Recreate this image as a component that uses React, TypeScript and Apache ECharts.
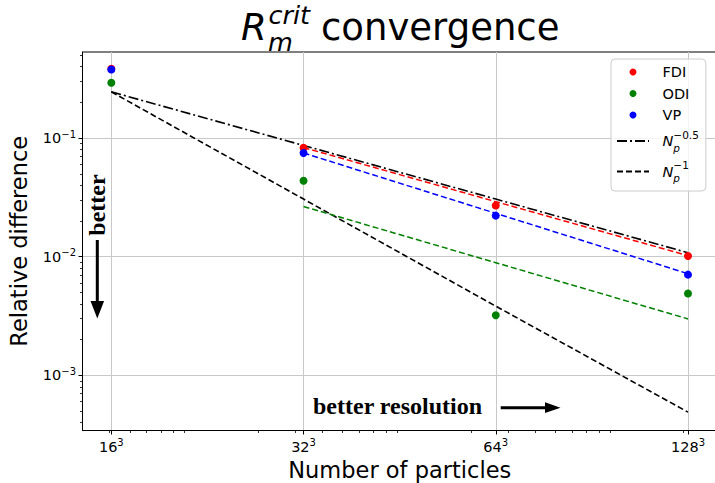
import React, { useEffect, useRef } from 'react';
import * as echarts from 'echarts';

// ---------- data ----------
const particleCounts = [16 ** 3, 32 ** 3, 64 ** 3, 128 ** 3];
const xTickBases = ['16', '32', '64', '128'];
const xTickExponent = '3';

const fdiValues = [0.383, 0.0829, 0.027, 0.01014];
const odiValues = [0.292, 0.0436, 0.00321, 0.00489];
const vpValues = [0.378, 0.0748, 0.0222, 0.00706];

// dashed fits, drawn from 32³ to 128³
const fdiFit = [0.0831, 0.0291, 0.0102];
const odiFit = [0.0265, 0.0089, 0.00299];
const vpFit = [0.0748, 0.0232, 0.00719];

// reference slopes, drawn from 16³ to 128³
const halfPowerRef = [0.245, 0.0866, 0.0306, 0.0108];
const firstPowerRef = [0.245, 0.0306, 0.00383, 0.00049];

const yTickValues = [0.001, 0.01, 0.1];
const yTickBase = '10';
const yTickExponents = ['−3', '−2', '−1'];

const xMinorTicks = [
  4000, 5000, 6000, 7000, 8000, 9000,
  20000, 30000, 40000, 50000, 60000, 70000, 80000, 90000,
  200000, 300000, 400000, 500000, 600000, 700000, 800000, 900000,
  2000000,
];
const yMinorTicks = [
  0.0004, 0.0005, 0.0006, 0.0007, 0.0008, 0.0009,
  0.002, 0.003, 0.004, 0.005, 0.006, 0.007, 0.008, 0.009,
  0.02, 0.03, 0.04, 0.05, 0.06, 0.07, 0.08, 0.09,
  0.2, 0.3, 0.4, 0.5,
];

const X_MIN = 2999;
const X_MAX = 2.87e6;
const Y_MIN = 3.43e-4;
const Y_MAX = 0.531;

const NAME_HALF = 'N_p^-0.5';
const NAME_ONE = 'N_p^-1';

const FONT = '"DejaVu Sans", sans-serif';
const SERIF = '"Liberation Serif", "Times New Roman", serif';

function nearestIndex(vals: number[], v: number): number {
  let best = 0;
  vals.forEach((t, i) => {
    if (Math.abs(Math.log(t / v)) < Math.abs(Math.log(vals[best] / v))) best = i;
  });
  return best;
}

const pairs = (xs: number[], ys: number[]) => ys.map((y, i) => [xs[i], y]);

export default function App() {
  const ref = useRef<HTMLDivElement>(null);

  useEffect(() => {
    document.body.style.margin = '0';
    if (!ref.current) return;
    const chart = echarts.init(ref.current, null, { renderer: 'svg' });

    const tickRich = {
      b: { fontSize: 14.5, fontFamily: FONT, color: '#000', lineHeight: 18 },
      s: { fontSize: 10, fontFamily: FONT, color: '#000', lineHeight: 18, verticalAlign: 'top' },
    };

    const dotSeries = (name: string, color: string, vals: number[]) => ({
      name,
      type: 'scatter',
      xAxisIndex: 0,
      yAxisIndex: 0,
      data: pairs(particleCounts, vals),
      symbol: 'circle',
      symbolSize: 8,
      itemStyle: { color, opacity: 1 },
      z: 5,
    });

    const lineSeries = (
      name: string,
      color: string,
      xs: number[],
      vals: number[],
      dash: number[],
      width: number
    ) => ({
      name,
      type: 'line',
      xAxisIndex: 0,
      yAxisIndex: 0,
      data: pairs(xs, vals),
      symbol: 'none',
      showSymbol: false,
      itemStyle: { color },
      lineStyle: { color, width, type: dash },
      z: 3,
    });

    const hiddenSymbol = { color: 'rgba(0,0,0,0)', borderWidth: 0, borderColor: 'rgba(0,0,0,0)' };

    const option: any = {
      animation: false,
      backgroundColor: '#fff',
      grid: {
        left: 82.5,
        top: 52,
        width: 634.5,
        height: 378.5,
        show: true,
        borderColor: '#000',
        borderWidth: 1,
        backgroundColor: 'transparent',
        containLabel: false,
        outerBoundsMode: 'none',
      },
      legend: {
        orient: 'vertical',
        left: 611,
        top: 59,
        padding: [5.5, 7, 7.5, 5],
        itemGap: 6.5,
        itemWidth: 32,
        itemHeight: 7,
        backgroundColor: 'rgba(255,255,255,0.8)',
        borderColor: '#cccccc',
        borderWidth: 1,
        borderRadius: 4,
        data: [
          { name: 'FDI', icon: 'circle' },
          { name: 'ODI', icon: 'circle' },
          { name: 'VP', icon: 'circle' },
          { name: NAME_HALF, itemStyle: hiddenSymbol },
          { name: NAME_ONE, itemStyle: hiddenSymbol },
        ],
        formatter: (name: string) => {
          if (name === NAME_HALF) return '{n|N}{p|p}{e|−0.5}';
          if (name === NAME_ONE) return '{n|N}{p|p}{e|−1}';
          return name;
        },
        textStyle: {
          fontFamily: FONT,
          fontSize: 14.5,
          color: '#000',
          padding: [0, 0, 0, 8.5],
          rich: {
            n: { fontFamily: FONT, fontSize: 14.5, fontStyle: 'italic', color: '#000', lineHeight: 24 },
            p: { fontFamily: FONT, fontSize: 10.5, fontStyle: 'italic', color: '#000', lineHeight: 24, verticalAlign: 'bottom', width: 0 },
            e: { fontFamily: FONT, fontSize: 10.5, color: '#000', lineHeight: 24, verticalAlign: 'top' },
          },
        },
      },
      xAxis: [
        {
          type: 'log',
          logBase: 10,
          min: X_MIN,
          max: X_MAX,
          position: 'bottom',
          axisLine: { show: true, lineStyle: { color: '#000', width: 1 } },
          axisTick: { show: true, inside: false, length: 4, customValues: particleCounts, lineStyle: { color: '#000', width: 1 } },
          minorTick: { show: false },
          axisLabel: {
            show: true,
            margin: 7,
            customValues: particleCounts,
            formatter: (v: number) => `{b|${xTickBases[nearestIndex(particleCounts, v)]}}{s|${xTickExponent}}`,
            rich: tickRich,
          },
          splitLine: { show: true, lineStyle: { color: '#c8c8c8', width: 1 } },
          name: 'Number of particles',
          nameLocation: 'middle',
          nameGap: 27.5,
          nameTextStyle: { fontFamily: FONT, fontSize: 22.5, color: '#000', lineHeight: 22 },
        },
        {
          type: 'log',
          logBase: 10,
          min: X_MIN,
          max: X_MAX,
          position: 'bottom',
          axisLine: { show: false },
          axisTick: { show: true, inside: false, length: 2.5, customValues: xMinorTicks, lineStyle: { color: '#000', width: 0.8 } },
          axisLabel: { show: false },
          splitLine: { show: false },
        },
      ],
      yAxis: [
        {
          type: 'log',
          logBase: 10,
          min: Y_MIN,
          max: Y_MAX,
          position: 'left',
          axisLine: { show: true, lineStyle: { color: '#000', width: 1 } },
          axisTick: { show: true, inside: false, length: 4, customValues: yTickValues, lineStyle: { color: '#000', width: 1 } },
          minorTick: { show: false },
          axisLabel: {
            show: true,
            margin: 6.5,
            customValues: yTickValues,
            formatter: (v: number) => `{b|${yTickBase}}{s|${yTickExponents[nearestIndex(yTickValues, v)]}}`,
            rich: tickRich,
          },
          splitLine: { show: true, lineStyle: { color: '#c8c8c8', width: 1 } },
          name: 'Relative difference',
          nameLocation: 'middle',
          nameGap: 51,
          nameTextStyle: { fontFamily: FONT, fontSize: 22.5, color: '#000', lineHeight: 26 },
        },
        {
          type: 'log',
          logBase: 10,
          min: Y_MIN,
          max: Y_MAX,
          position: 'left',
          offset: 0,
          axisLine: { show: false },
          axisTick: { show: true, inside: false, length: 2.5, customValues: yMinorTicks, lineStyle: { color: '#000', width: 0.8 } },
          axisLabel: { show: false },
          splitLine: { show: false },
        },
      ],
      series: [
        lineSeries(NAME_HALF, '#000000', particleCounts, halfPowerRef, [10, 3, 2, 3], 1.6),
        lineSeries(NAME_ONE, '#000000', particleCounts, firstPowerRef, [6, 3], 1.6),
        lineSeries('FDI fit', '#ff0000', particleCounts.slice(1), fdiFit, [6, 3], 1.5),
        lineSeries('ODI fit', '#008000', particleCounts.slice(1), odiFit, [6, 3], 1.5),
        lineSeries('VP fit', '#0000ff', particleCounts.slice(1), vpFit, [6, 3], 1.5),
        dotSeries('FDI', '#ff0000', fdiValues),
        dotSeries('ODI', '#008000', odiValues),
        dotSeries('VP', '#0000ff', vpValues),
      ],
      graphic: [
        // title: R_m^crit convergence
        { type: 'text', x: 241, y: 27.5, style: { text: 'R', fontFamily: FONT, fontSize: 37, lineHeight: 37, fontStyle: 'italic', fill: '#000', align: 'left', verticalAlign: 'middle' } },
        { type: 'text', x: 268.5, y: 15, style: { text: 'crit', fontFamily: FONT, fontSize: 25.5, lineHeight: 24, fontStyle: 'italic', fill: '#000', align: 'left', verticalAlign: 'middle' } },
        { type: 'text', x: 268, y: 42, style: { text: 'm', fontFamily: FONT, fontSize: 25.5, lineHeight: 24, fontStyle: 'italic', fill: '#000', align: 'left', verticalAlign: 'middle' } },
        { type: 'text', x: 321, y: 27.5, style: { text: 'convergence', fontFamily: FONT, fontSize: 37, lineHeight: 37, fill: '#000', align: 'left', verticalAlign: 'middle' } },
        // "better" (vertical) with down arrow
        { type: 'text', x: 97, y: 205, rotation: Math.PI / 2, style: { text: 'better', fontFamily: SERIF, fontSize: 24, fontWeight: 'bold', fill: '#000', align: 'center', verticalAlign: 'middle' }, z: 10 },
        { type: 'line', shape: { x1: 97.3, y1: 240, x2: 97.3, y2: 303 }, style: { stroke: '#000', lineWidth: 3 }, z: 10 },
        { type: 'polygon', shape: { points: [[90.5, 301], [97.3, 318.5], [104.1, 301]] }, style: { fill: '#000' }, z: 10 },
        // "better resolution" with right arrow
        { type: 'text', x: 313, y: 405.5, style: { text: 'better resolution', fontFamily: SERIF, fontSize: 24, fontWeight: 'bold', fill: '#000', align: 'left', verticalAlign: 'middle' }, z: 10 },
        { type: 'line', shape: { x1: 500.7, y1: 407.7, x2: 547, y2: 407.7 }, style: { stroke: '#000', lineWidth: 3 }, z: 10 },
        { type: 'polygon', shape: { points: [[545, 402.3], [560.5, 407.7], [545, 413.1]] }, style: { fill: '#000' }, z: 10 },
      ],
    };

    chart.setOption(option);
    return () => chart.dispose();
  }, []);

  return <div ref={ref} style={{ width: 715, height: 483 }} />;
}
